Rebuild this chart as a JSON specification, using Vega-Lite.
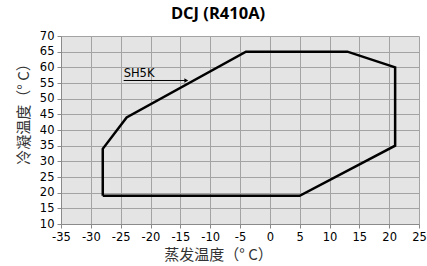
{
  "$schema": "https://vega.github.io/schema/vega-lite/v6.json",
  "width": 358,
  "height": 188,
  "autosize": {"type": "none"},
  "padding": {"left": 61, "top": 36, "right": 8, "bottom": 42},
  "background": "white",
  "title": {"text": "DCJ (R410A)", "font": "Open Sans", "fontSize": 16.5, "fontWeight": "bold", "color": "#000", "anchor": "middle", "dx": -22, "offset": 8},
  "config": {
    "view": {"fill": "#e4e4e4", "stroke": null},
    "axis": {
      "gridColor": "#a3a3a3", "gridOpacity": 1, "gridWidth": 1,
      "domainColor": "#8a8a8a", "tickColor": "#8a8a8a", "tickSize": 4,
      "labelFont": "DejaVu Sans", "labelFontSize": 11.5, "labelColor": "#000",
      "labelOverlap": false, "labelFlush": false, "tickCount": 20,
      "labelExpr": "'' + datum.value",
      "titleFont": "Noto Sans CJK SC", "titleFontSize": 15, "titleFontWeight": "normal", "titleColor": "#333"
    }
  },
  "datasets": {
    "envelope": [
      {"i": 0, "evap": -28, "cond": 19},
      {"i": 1, "evap": -28, "cond": 34},
      {"i": 2, "evap": -24, "cond": 44},
      {"i": 3, "evap": -4, "cond": 65},
      {"i": 4, "evap": 13, "cond": 65},
      {"i": 5, "evap": 21, "cond": 60},
      {"i": 6, "evap": 21, "cond": 35},
      {"i": 7, "evap": 5, "cond": 19},
      {"i": 8, "evap": -28, "cond": 19}
    ],
    "arrow": [
      {"x1": -24.5, "x2": -14, "y": 55.8, "label": "SH5K"}
    ]
  },
  "layer": [
    {
      "data": {"name": "envelope"},
      "mark": {"type": "line", "color": "#000", "strokeWidth": 2.5, "strokeJoin": "miter"},
      "encoding": {
        "x": {"field": "evap", "type": "quantitative", "scale": {"domain": [-35, 25], "nice": false},
              "axis": {"values": [-35,-30,-25,-20,-15,-10,-5,0,5,10,15,20,25], "title": "蒸发温度（° C）", "titleX": 157, "titlePadding": 5, "labelPadding": 3}},
        "y": {"field": "cond", "type": "quantitative", "scale": {"domain": [10, 70], "nice": false},
              "axis": {"values": [10,15,20,25,30,35,40,45,50,55,60,65,70], "title": "冷凝温度（° C）", "titleY": 74, "titlePadding": 8, "labelPadding": 3}},
        "order": {"field": "i", "type": "quantitative"}
      }
    },
    {
      "data": {"name": "arrow"},
      "mark": {"type": "rule", "color": "#000", "strokeWidth": 1},
      "encoding": {
        "x": {"field": "x1", "type": "quantitative"},
        "x2": {"field": "x2"},
        "y": {"field": "y", "type": "quantitative"}
      }
    },
    {
      "data": {"name": "arrow"},
      "mark": {"type": "point", "shape": "triangle-right", "filled": true, "color": "#000", "size": 20, "opacity": 1},
      "encoding": {
        "x": {"field": "x2", "type": "quantitative"},
        "y": {"field": "y", "type": "quantitative"}
      }
    },
    {
      "data": {"name": "arrow"},
      "mark": {"type": "text", "align": "left", "baseline": "bottom", "dy": -1, "font": "DejaVu Sans", "fontSize": 11.5, "color": "#000"},
      "encoding": {
        "x": {"field": "x1", "type": "quantitative"},
        "y": {"field": "y", "type": "quantitative"},
        "text": {"field": "label"}
      }
    }
  ]
}
